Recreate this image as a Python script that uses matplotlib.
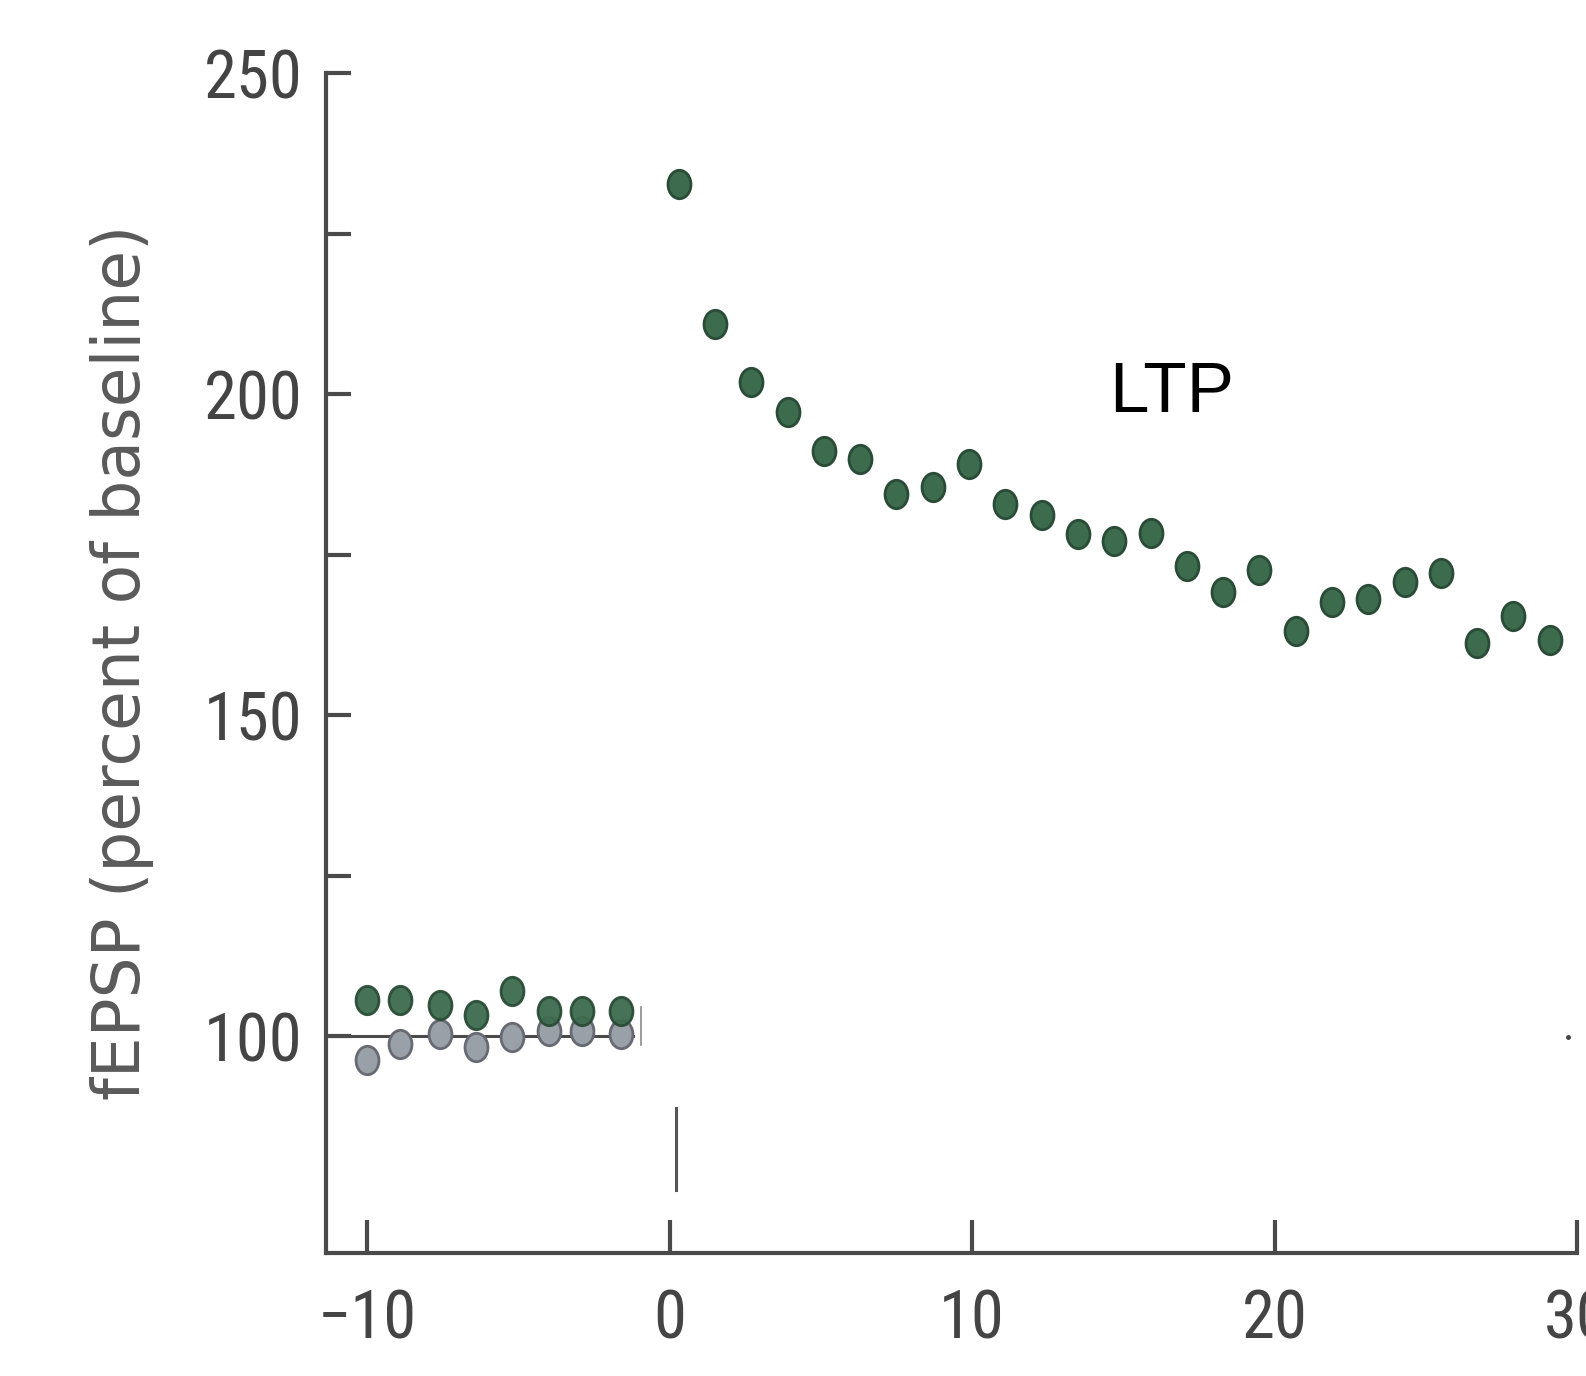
import matplotlib
matplotlib.use("Agg")
import matplotlib.pyplot as plt
from matplotlib import font_manager
from matplotlib.markers import MarkerStyle
from matplotlib.transforms import Affine2D

# ---- data ----
base_x = [-10.0, -8.9, -7.6, -6.4, -5.2, -4.0, -2.9, -1.6]
control_y = [96.3, 98.8, 100.3, 98.3, 99.9, 100.8, 100.8, 100.3]
base_ltp_y = [105.6, 105.6, 104.9, 103.3, 107.0, 103.9, 103.9, 103.9]

ltp_x = [0.3, 1.5, 2.7, 3.9, 5.1, 6.3, 7.5, 8.7, 9.9, 11.1, 12.3, 13.5, 14.7,
         15.9, 17.1, 18.3, 19.5, 20.7, 21.9, 23.1, 24.3, 25.5, 26.7, 27.9, 29.1]
ltp_y = [232.8, 211.0, 201.9, 197.3, 191.1, 190.0, 184.4, 185.5, 189.1, 182.9,
         181.2, 178.2, 177.1, 178.4, 173.2, 169.2, 172.7, 163.1, 167.7, 168.1,
         170.8, 172.1, 161.2, 165.5, 161.8]

x_ticks = [-10, 0, 10, 20, 30]
x_tick_labels = ["\u221210", "0", "10", "20", "30"]
y_ticks = [100, 150, 200, 250]
y_minor = [125, 175, 225]
baseline_level = 100
baseline_end = -1.2
stim_x = 0.2
stim_range = [76.1, 88.9]
cap_x = -0.95
cap_range = [98.7, 104.6]
stray_x = [29.7]
stray_y = [99.9]

ylabel = "fEPSP (percent of baseline)"
annot = "LTP"
annot_pos = (16.6, 200.0)

# pick a condensed face for tick labels if one is installed
available = {f.name for f in font_manager.fontManager.ttflist}
tick_font = "Liberation Sans"
for cand in ["Liberation Sans Narrow", "Roboto Condensed", "DejaVu Sans Condensed",
             "Open Sans Condensed", "Noto Sans Condensed"]:
    if cand in available:
        tick_font = cand
        break
narrow = tick_font != "Liberation Sans"

# ---- figure ----
W, H = 1586, 1376
fig = plt.figure(figsize=(W / 100, H / 100), dpi=100)
left, right, top, bottom = 326, 1577, 73.3, 1253.3
ax = fig.add_axes([left / W, 1 - bottom / H, (right - left) / W, (bottom - top) / H])

axis_col = "#4a4a4a"
green_face = "#3c6b4e"
green_edge = "#2a4c37"
gray_face = "#9aa0a8"
gray_edge = "#676a72"

mk = MarkerStyle("o", transform=Affine2D().scale(1.0, 1.24))

ax.plot([-11.36, baseline_end], [baseline_level, baseline_level], color=axis_col, lw=2.2, zorder=1)
ax.plot([cap_x, cap_x], cap_range, color="#8a8a8a", lw=1.2, zorder=1)
ax.plot([stim_x, stim_x], stim_range, color="#555555", lw=2.2, zorder=1)
ax.plot(stray_x, stray_y, linestyle="none", marker="o", ms=2.5, color="#444444")

ax.plot(base_x, control_y, linestyle="none", marker=mk, ms=16.5, mfc=gray_face,
        mec=gray_edge, mew=2.0, zorder=2)
ax.plot(base_x, base_ltp_y, linestyle="none", marker=mk, ms=16.5, mfc=green_face,
        mec=green_edge, mew=2.0, zorder=3, alpha=0.95)
ax.plot(ltp_x, ltp_y, linestyle="none", marker=mk, ms=16.5, mfc=green_face,
        mec=green_edge, mew=2.0, zorder=3)

ax.text(annot_pos[0], annot_pos[1], annot, fontsize=51, color="black",
        ha="center", va="center", family=["Liberation Sans", "DejaVu Sans"])

ax.set_xlim(-11.36, 30.0)
ax.set_ylim(66.2, 250)

for s in ["top", "right"]:
    ax.spines[s].set_visible(False)
for s in ["left", "bottom"]:
    ax.spines[s].set_color(axis_col)
    ax.spines[s].set_linewidth(3.0)
    ax.spines[s].set_capstyle("projecting")

ax.set_xticks(x_ticks)
ax.set_xticklabels(x_tick_labels)
ax.set_yticks(y_ticks)
ax.set_yticks(y_minor, minor=True)

lsize = 48 if narrow else 45
ax.tick_params(axis="x", direction="in", length=24, width=3, color=axis_col,
               labelsize=lsize, labelcolor="#444444", pad=25)
ax.tick_params(axis="y", which="both", direction="in", length=18, width=3,
               color=axis_col, labelsize=lsize, labelcolor="#444444", pad=17)
for lab in ax.get_xticklabels() + ax.get_yticklabels():
    lab.set_family([tick_font, "DejaVu Sans"])

fig.text(122 / W, 1 - 662 / H, ylabel, rotation=90, ha="center", va="center",
         fontsize=46.5, color="#5a5a5a", family=["DejaVu Sans"])

fig.savefig("out.png", dpi=100)
